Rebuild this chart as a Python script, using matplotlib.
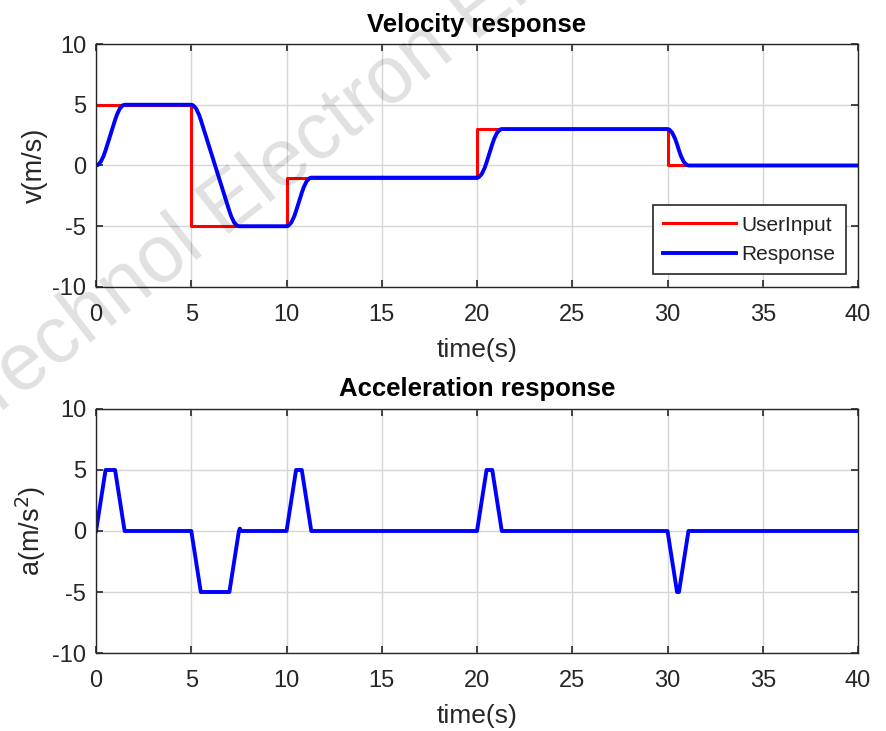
import matplotlib
matplotlib.use("Agg")
import matplotlib.pyplot as plt

plt.rcParams['font.family'] = ['Liberation Sans', 'DejaVu Sans']
plt.rcParams['axes.unicode_minus'] = False

# ---- data ----
input_t = [0, 5, 10, 20, 30, 40]
input_v = [5, -5, -1, 3, 0, 0]

resp_t = [0, 0.1, 0.25, 0.4, 0.5, 1.0, 1.1, 1.25, 1.4, 1.5,
          5, 5.1, 5.25, 5.4, 5.5, 7.0, 7.1, 7.25, 7.4, 7.5,
          10, 10.1, 10.25, 10.4, 10.5, 10.8, 10.9, 11.05, 11.2, 11.3,
          20, 20.1, 20.25, 20.4, 20.5, 20.8, 20.9, 21.05, 21.2, 21.3,
          30, 30.1, 30.25, 30.4, 30.5, 30.6, 30.7, 30.85, 31.0, 31.1, 40]
resp_v = [0, 0.05, 0.31, 0.8, 1.25, 3.75, 4.2, 4.69, 4.95, 5,
          5, 4.95, 4.69, 4.2, 3.75, -3.75, -4.2, -4.69, -4.95, -5,
          -5, -4.95, -4.69, -4.2, -3.75, -2.25, -1.8, -1.31, -1.05, -1,
          -1, -0.95, -0.69, -0.2, 0.25, 1.75, 2.2, 2.69, 2.95, 3,
          3, 2.95, 2.69, 2.2, 1.75, 1.25, 0.8, 0.31, 0.05, 0, 0]

acc_t = [0, 0.5, 1.0, 1.5, 5, 5.5, 7.0, 7.5, 7.55, 7.6, 10, 10.5, 10.8, 11.3,
         20, 20.5, 20.8, 21.3, 30, 30.5, 30.6, 31.1, 40]
acc_a = [0, 5, 5, 0, 0, -5, -5, 0, 0.2, 0, 0, 5, 5, 0,
         0, 5, 5, 0, 0, -5, -5, 0, 0]

xticks = [0, 5, 10, 15, 20, 25, 30, 35, 40]
yticks = [-10, -5, 0, 5, 10]

# ---- figure ----
fig = plt.figure(figsize=(8.86, 7.31), dpi=100)
ax1 = fig.add_axes([0.1084, 0.6074, 0.8600, 0.3324])
ax2 = fig.add_axes([0.1084, 0.1067, 0.8600, 0.3338])

axc = '#262626'
txc = '#262626'

def style(ax):
    ax.set_xlim(0, 40)
    ax.set_ylim(-10, 10)
    ax.set_xticks(xticks)
    ax.set_yticks(yticks)
    ax.grid(True, color='#d6d6d6', linewidth=1.0)
    ax.set_axisbelow(True)
    ax.tick_params(direction='in', length=5, width=1.2, color=axc,
                   labelsize=17, labelcolor=txc, top=True, right=True)
    ax.tick_params(axis='x', pad=12)
    ax.tick_params(axis='y', pad=7)
    for s in ax.spines.values():
        s.set_color(axc)
        s.set_linewidth(1.0)

ax1.step(input_t, input_v, where='post', color='#ff0000', linewidth=2.2, label='UserInput')
ax1.plot(resp_t, resp_v, color='#0000ff', linewidth=2.8, label='Response')
style(ax1)
ax1.set_title('Velocity response', fontsize=18.5, fontweight='bold', pad=9)
ax1.set_xlabel('time(s)', fontsize=19, color=txc, labelpad=9)
ax1.set_ylabel('v(m/s)', fontsize=19.5, color=txc, labelpad=3)
leg = ax1.legend(loc='lower right', fontsize=15, frameon=True, fancybox=False,
                 edgecolor=axc, handlelength=3.5, borderpad=0.5, labelspacing=0.5,
                 handletextpad=0.25, bbox_to_anchor=(1.0, 0.0), borderaxespad=0.6)
leg.get_frame().set_linewidth(1.2)
leg.get_frame().set_alpha(1.0)
for t in leg.get_texts():
    t.set_color('#222222')

ax2.plot(acc_t, acc_a, color='#0000ff', linewidth=2.8)
style(ax2)
ax2.set_title('Acceleration response', fontsize=18.5, fontweight='bold', pad=9)
ax2.set_xlabel('time(s)', fontsize=19, color=txc, labelpad=9)
ax2.set_ylabel('a(m/s$^2$)', fontsize=19.5, color=txc, labelpad=3)

# watermark
fig.text(0.31, 0.765, 'Technol Electron Eng', fontsize=58, color='#000000', alpha=0.12,
         rotation=38, ha='center', va='center')

fig.savefig('out.png', dpi=100)
